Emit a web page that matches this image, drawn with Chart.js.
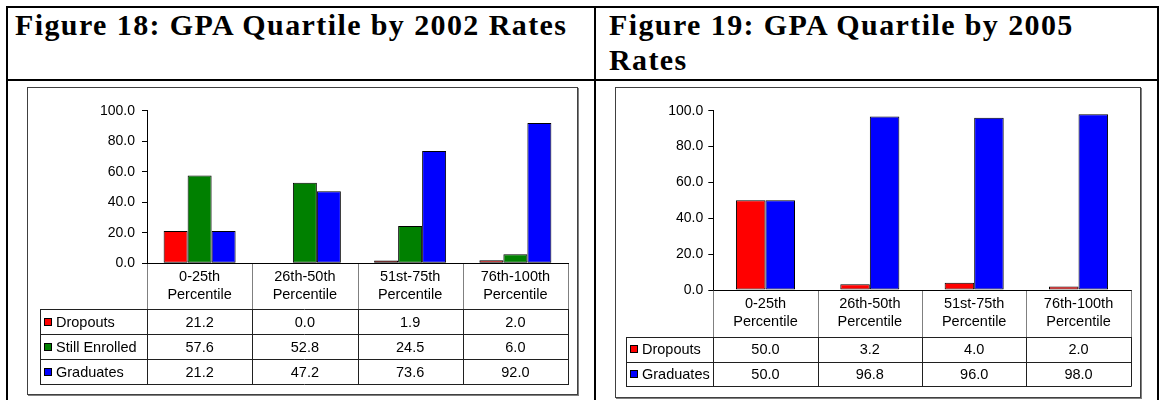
<!DOCTYPE html>
<html>
<head>
<meta charset="utf-8">
<script src="https://cdn.jsdelivr.net/npm/chart.js@4/dist/chart.umd.min.js"></script>
<style>
  html, body { margin: 0; padding: 0; background: #fff; }
  body { width: 1160px; height: 400px; position: relative; overflow: hidden; }
  .rule { position: absolute; background: #000; }
  .title {
    position: absolute; top: 7px;
    font-family: "Liberation Serif", "Times New Roman", serif;
    font-weight: bold; font-size: 30px; line-height: 35px;
    letter-spacing: 1.4px; color: #000; white-space: nowrap;
  }
  .box {
    position: absolute; box-sizing: border-box;
    border: 1px solid #404040; box-shadow: 1px 1px 0 #808080; background: #fff;
  }
  canvas { position: absolute; }
</style>
</head>
<body>
<!-- outer layout table -->
<div class="rule" style="left:6px;top:6px;width:1153px;height:2px"></div>
<div class="rule" style="left:6px;top:79px;width:1153px;height:2px"></div>
<div class="rule" style="left:6px;top:6px;width:2px;height:400px"></div>
<div class="rule" style="left:594px;top:6px;width:2px;height:400px"></div>
<div class="rule" style="left:1157px;top:6px;width:2px;height:400px"></div>

<div class="title" style="left:15px">Figure 18: GPA Quartile by 2002 Rates</div>
<div class="title" style="left:609px">Figure 19: GPA Quartile by 2005<br>Rates</div>

<div class="box" style="left:27px;top:87px;width:551px;height:308px"></div>
<canvas id="chart2002" width="549" height="306" style="left:28px;top:88px"></canvas>

<div class="box" style="left:615px;top:87px;width:526px;height:311px"></div>
<canvas id="chart2005" width="524" height="309" style="left:616px;top:88px"></canvas>

<script>
// Category labels (two lines each)
const categories = [
  ['0-25th', 'Percentile'],
  ['26th-50th', 'Percentile'],
  ['51st-75th', 'Percentile'],
  ['76th-100th', 'Percentile']
];

// 2002 rates by GPA quartile (%)
const dropouts2002      = [21.2, 0.0, 1.9, 2.0];
const stillEnrolled2002 = [57.6, 52.8, 24.5, 6.0];
const graduates2002     = [21.2, 47.2, 73.6, 92.0];

// 2005 rates by GPA quartile (%)
const dropouts2005  = [50.0, 3.2, 4.0, 2.0];
const graduates2005 = [50.0, 96.8, 96.0, 98.0];

// Value axis
const yMin = 0;
const yMax = 100;
const yStep = 20;

const RED = '#ff0000';
const GREEN = '#008000';
const BLUE = '#0000ff';
const FONT = '"Liberation Sans", Arial, sans-serif';
const TICK_SIZE = 14;
const TABLE_SIZE = 14.5;

// Draws the axis line, the category header row and the data table under the plot
const dataTablePlugin = {
  id: 'dataTable',
  afterDraw(chart, args, opts) {
    const { ctx, chartArea } = chart;
    const xScale = chart.scales.x;
    const labels = chart.data.labels;
    const sets = chart.data.datasets;
    const n = labels.length;
    const colW = (chartArea.right - chartArea.left) / n;
    const crisp = v => Math.round(v) + 0.5;

    const top = chartArea.bottom;
    const headBottom = top + opts.headerHeight;
    const bottom = headBottom + sets.length * opts.rowHeight;
    const legendLeft = opts.legendLeft;

    ctx.save();
    ctx.lineWidth = 1;

    // header column separators
    ctx.strokeStyle = '#808080';
    ctx.beginPath();
    for (let i = 0; i <= n; i++) {
      const x = crisp(chartArea.left + i * colW);
      ctx.moveTo(x, top);
      ctx.lineTo(x, headBottom);
    }
    ctx.stroke();

    // table grid
    ctx.strokeStyle = '#202020';
    ctx.beginPath();
    for (let i = 0; i <= n; i++) {
      const x = crisp(chartArea.left + i * colW);
      ctx.moveTo(x, headBottom);
      ctx.lineTo(x, bottom);
    }
    ctx.moveTo(crisp(legendLeft), headBottom);
    ctx.lineTo(crisp(legendLeft), bottom);
    for (let r = 0; r <= sets.length; r++) {
      const y = crisp(headBottom + r * opts.rowHeight);
      ctx.moveTo(legendLeft, y);
      ctx.lineTo(chartArea.right + 1, y);
    }
    ctx.stroke();

    // category axis line
    ctx.strokeStyle = '#000';
    ctx.beginPath();
    ctx.moveTo(chartArea.left, crisp(top));
    ctx.lineTo(chartArea.right + 1, crisp(top));
    ctx.stroke();

    ctx.fillStyle = '#000';
    ctx.font = TABLE_SIZE + 'px ' + FONT;
    ctx.textBaseline = 'alphabetic';

    // category header labels
    ctx.textAlign = 'center';
    labels.forEach((lab, i) => {
      const cx = xScale.getPixelForTick(i);
      lab.forEach((line, k) => ctx.fillText(line, cx, top + 17.5 + k * 18));
    });

    // legend rows and values
    sets.forEach((ds, r) => {
      const rowTop = headBottom + r * opts.rowHeight;
      const mid = rowTop + opts.rowHeight / 2;
      ctx.fillStyle = ds.backgroundColor;
      ctx.fillRect(legendLeft + 4, Math.round(mid - 4), 8, 8);
      ctx.strokeStyle = '#000';
      ctx.strokeRect(legendLeft + 4.5, Math.round(mid - 4) + 0.5, 7, 7);
      ctx.fillStyle = '#000';
      ctx.textAlign = 'left';
      ctx.fillText(ds.label, legendLeft + 16, mid + 5);
      ctx.textAlign = 'center';
      ds.data.forEach((v, i) => {
        ctx.fillText(v.toFixed(1), xScale.getPixelForTick(i), mid + 5);
      });
    });
    ctx.restore();
  }
};

function makeChart(id, datasets, cfg) {
  return new Chart(document.getElementById(id), {
    type: 'bar',
    data: {
      labels: categories,
      datasets: datasets.map(d => ({
        label: d.label,
        data: d.data,
        backgroundColor: d.color,
        borderColor: '#000',
        borderWidth: 1,
        borderSkipped: false,
        inflateAmount: 0,
        categoryPercentage: cfg.groupWidth,
        barPercentage: 1.0
      }))
    },
    options: {
      responsive: false,
      animation: false,
      devicePixelRatio: 1,
      layout: { padding: { left: 0, top: cfg.padTop, right: cfg.padRight, bottom: cfg.padBottom } },
      plugins: {
        legend: { display: false },
        tooltip: { enabled: false },
        dataTable: cfg.table
      },
      scales: {
        x: { display: false },
        y: {
          min: yMin, max: yMax,
          afterFit(scale) { scale.width = cfg.axisWidth; },
          ticks: {
            stepSize: yStep,
            color: '#000',
            padding: cfg.tickPad,
            font: { family: FONT, size: TICK_SIZE },
            callback: v => Number(v).toFixed(1)
          },
          grid: { display: true, drawOnChartArea: false, drawTicks: true, tickLength: 5, color: '#000' },
          border: { display: true, color: '#000', width: 1 }
        }
      }
    },
    plugins: [dataTablePlugin]
  });
}

makeChart('chart2002', [
  { label: 'Dropouts', data: dropouts2002, color: RED },
  { label: 'Still Enrolled', data: stillEnrolled2002, color: GREEN },
  { label: 'Graduates', data: graduates2002, color: BLUE }
], {
  groupWidth: 0.684, axisWidth: 119, tickPad: 7,
  padTop: 22.7, padRight: 9, padBottom: 130.7,
  table: { headerHeight: 45.7, rowHeight: 25, legendLeft: 12 }
});

makeChart('chart2005', [
  { label: 'Dropouts', data: dropouts2005, color: RED },
  { label: 'Graduates', data: graduates2005, color: BLUE }
], {
  groupWidth: 0.566, axisWidth: 97.3, tickPad: 5,
  padTop: 22.7, padRight: 9.3, padBottom: 107,
  table: { headerHeight: 47, rowHeight: 24.5, legendLeft: 10 }
});
</script>
</body>
</html>
